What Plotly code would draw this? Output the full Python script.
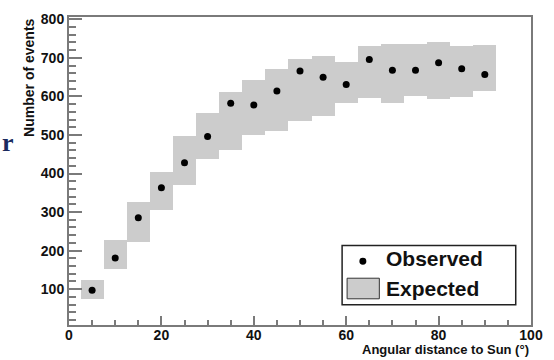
import plotly.graph_objects as go

# ---- data ----
angle = [5, 10, 15, 20, 25, 30, 35, 40, 45, 50, 55, 60, 65, 70, 75, 80, 85, 90]
observed = [97, 181, 285, 363, 428, 496, 582, 578, 614, 666, 650, 631, 696, 668, 668, 687, 672, 657]
exp_low = [74, 153, 223, 306, 369, 438, 462, 501, 511, 535, 548, 582, 595, 584, 602, 592, 599, 614]
exp_high = [123, 227, 327, 405, 497, 557, 612, 642, 672, 697, 704, 690, 730, 737, 737, 742, 730, 733]
x_ticks = [0, 20, 40, 60, 80, 100]
y_ticks = [100, 200, 300, 400, 500, 600, 700, 800]

W, H = 554, 360
L, R, T, B = 69, 22, 11, 35
PW, PH = W - L - R, H - T - B


def px(x):
    return (x - L) / PW


def py(y):
    return (H - B - y) / PH


FONT = "Liberation Sans, Arial, Helvetica, sans-serif"
AX = "#7a7a7a"

fig = go.Figure()
fig.add_trace(go.Bar(
    x=angle, base=exp_low, y=[h - l for h, l in zip(exp_high, exp_low)],
    width=5, marker=dict(color="#cccccc", line=dict(width=0)),
    name="Expected", showlegend=False,
))
fig.add_trace(go.Scatter(
    x=angle, y=observed, mode="markers",
    marker=dict(color="black", size=7),
    name="Observed", showlegend=False,
))

axis_common = dict(
    showgrid=False, zeroline=False, showline=True, linecolor=AX, linewidth=2,
    mirror=True, ticks="inside", tickcolor=AX, tickwidth=1.5,
    tickfont=dict(family=FONT, size=14, color="#111", weight="bold"),
)
fig.update_xaxes(range=[0, 100], tickvals=x_ticks, ticklen=9, ticklabelstandoff=-4,
                 minor=dict(dtick=5, ticks="inside", ticklen=5, tickcolor=AX, tickwidth=1.5),
                 **axis_common)
fig.update_yaxes(range=[7, 806], tickvals=y_ticks, ticklen=13,
                 minor=dict(dtick=20, ticks="inside", ticklen=7, tickcolor=AX, tickwidth=1.5),
                 **axis_common)

shapes = [
    dict(type="rect", xref="paper", yref="paper", x0=px(342.7), x1=px(516.7), y0=py(304.3), y1=py(244),
         fillcolor="white", line=dict(color="#222", width=1.5)),
    dict(type="circle", xref="paper", yref="paper", x0=px(360), x1=px(367), y0=py(263.5), y1=py(256.5),
         fillcolor="black", line=dict(color="black", width=0)),
    dict(type="rect", xref="paper", yref="paper", x0=px(347.7), x1=px(380), y0=py(298.3), y1=py(277.3),
         fillcolor="#cccccc", line=dict(color="#333", width=1)),
]

annotations = [
    dict(text="<b>Observed</b>", xref="paper", yref="paper", x=px(385), y=py(257), xanchor="left", yanchor="middle",
         showarrow=False, font=dict(family=FONT, size=21, color="#111")),
    dict(text="<b>Expected</b>", xref="paper", yref="paper", x=px(385), y=py(287.5), xanchor="left", yanchor="middle",
         showarrow=False, font=dict(family=FONT, size=21, color="#111")),
    dict(text="<b>Angular distance to Sun (°)</b>", xref="paper", yref="paper", x=1, y=py(360),
         xanchor="right", yanchor="bottom", showarrow=False,
         font=dict(family=FONT, size=13, color="#111")),
    dict(text="<b>Number of events</b>", xref="paper", yref="paper", x=px(29), y=py(73), textangle=-90,
         xanchor="center", yanchor="middle", showarrow=False,
         font=dict(family=FONT, size=14, color="#111")),
    dict(text="<b>r</b>", xref="paper", yref="paper", x=px(0), y=py(139), xanchor="left", yanchor="middle",
         showarrow=False, font=dict(family="Liberation Serif, serif", size=26, color="#1b2a5e")),
]

fig.update_layout(
    width=W, height=H, margin=dict(l=L, r=R, t=T, b=B),
    paper_bgcolor="white", plot_bgcolor="white",
    shapes=shapes, annotations=annotations, bargap=0,
)

fig.write_html("out.html")
